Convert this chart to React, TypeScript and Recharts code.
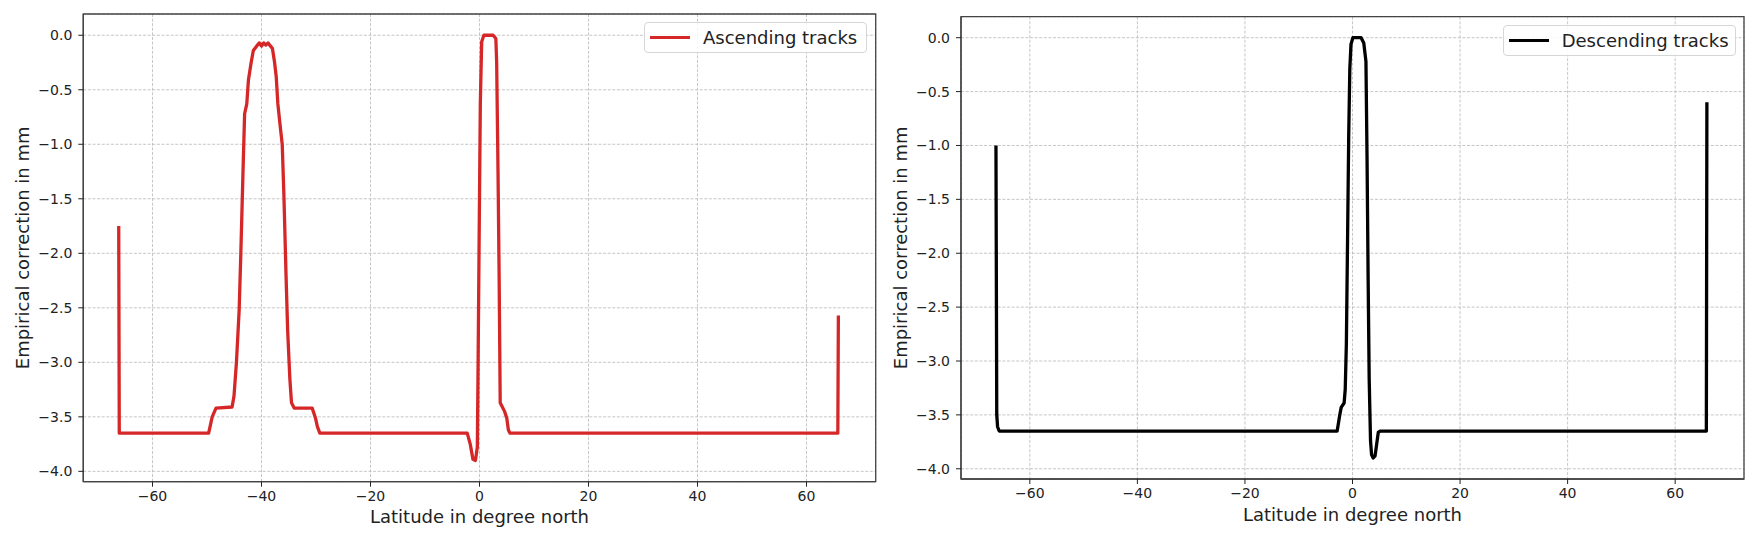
import React from 'react';
import { LineChart, Line, XAxis, YAxis, CartesianGrid, Legend, Label, ReferenceArea } from 'recharts';

const xTicks = [-60, -40, -20, 0, 20, 40, 60];
const yTicks = [0, -0.5, -1, -1.5, -2, -2.5, -3, -3.5, -4];

const ascendingLat = [-66.2, -66.1, -49.7, -49.05, -48.35, -45.4, -45.05, -44.6, -44.1, -43.8, -43.4, -43.1, -42.7, -42.4, -41.9, -41.5, -40.9, -40.4, -40.0, -39.6, -39.2, -38.8, -38.5, -38.0, -37.6, -37.3, -37.0, -36.6, -36.2, -35.9, -35.5, -35.2, -34.8, -34.5, -34.0, -30.7, -30.1, -29.75, -29.3, -2.25, -1.7, -1.2, -0.75, -0.4, -0.28, -0.07, 0.15, 0.4, 0.8, 2.5, 3.0, 3.15, 3.4, 3.6, 3.8, 4.1, 4.6, 5.0, 5.3, 5.6, 65.75, 65.85];
const ascendingVal = [-1.75, -3.65, -3.65, -3.5, -3.42, -3.41, -3.31, -3.0, -2.52, -2.01, -1.26, -0.72, -0.63, -0.41, -0.25, -0.14, -0.1, -0.07, -0.1, -0.07, -0.09, -0.07, -0.09, -0.12, -0.25, -0.38, -0.63, -0.82, -1.0, -1.45, -2.2, -2.71, -3.15, -3.37, -3.42, -3.42, -3.51, -3.59, -3.65, -3.65, -3.75, -3.89, -3.9, -3.78, -3.15, -1.89, -0.63, -0.06, 0, 0, -0.03, -0.25, -1.26, -2.2, -3.37, -3.4, -3.45, -3.51, -3.62, -3.65, -3.65, -2.57];

const descendingLat = [-66.3, -66.15, -66.0, -65.7, -2.85, -2.4, -2.1, -1.56, -1.35, -1.14, -0.92, -0.71, -0.5, -0.28, 0.07, 1.6, 2.1, 2.5, 2.7, 2.9, 3.1, 3.35, 3.55, 3.85, 4.2, 4.5, 4.8, 5.2, 65.8, 65.9];
const descendingVal = [-1.0, -3.5, -3.61, -3.65, -3.65, -3.51, -3.43, -3.39, -3.26, -2.84, -1.88, -0.93, -0.29, -0.06, 0, 0, -0.05, -0.22, -1.09, -2.2, -3.16, -3.74, -3.87, -3.9, -3.88, -3.77, -3.66, -3.65, -3.65, -0.6];

const ascData = ascendingLat.map((lat, i) => ({ lat, val: ascendingVal[i] }));
const descData = descendingLat.map((lat, i) => ({ lat, val: descendingVal[i] }));

const Y_DOMAIN: [number, number] = [-4.095, 0.195];
const FONT = '"DejaVu Sans", sans-serif';
const fmtX = (v: number) => (v < 0 ? '\u2212' + Math.abs(v) : String(v));
const fmtY = (v: number) => (v < 0 ? '\u2212' + Math.abs(v).toFixed(1) : Math.abs(v).toFixed(1));

type PanelProps = {
  data: { lat: number; val: number }[];
  color: string;
  name: string;
  left: number;
  width: number;
  margin: { top: number; right: number; bottom: number; left: number };
  xDomain: [number, number];
  legend: { left: number; top: number; width: number; height: number };
  yLabelX: number;
};

function Panel(p: PanelProps) {
  const H = 539;
  const plotTop = p.margin.top;
  const plotBottom = H - p.margin.bottom - 30;
  const plotLeft = p.margin.left + 60;
  const plotRight = p.width - p.margin.right;
  const axisStroke = '#444';
  return (
    <div style={{ position: 'absolute', left: p.left, top: 0 }}>
      <LineChart width={p.width} height={H} data={p.data} margin={p.margin}>
        <CartesianGrid stroke="#b8b8b8" strokeDasharray="3 1.6" strokeWidth={0.8} />
        <XAxis
          dataKey="lat"
          type="number"
          domain={p.xDomain}
          ticks={xTicks}
          tickFormatter={fmtX}
          height={30}
          tickSize={5}
          tickMargin={4}
          allowDataOverflow
          axisLine={{ stroke: axisStroke, strokeWidth: 1.3 }}
          tickLine={{ stroke: '#222', strokeWidth: 1 }}
          tick={{ fill: '#222', fontSize: 14, fontFamily: FONT }}
        >
          <Label
            content={() => (
              <text
                x={(plotLeft + plotRight) / 2}
                y={plotBottom + 35}
                textAnchor="middle"
                dominantBaseline="central"
                fontSize={18}
                fontFamily={FONT}
                fill="#222"
              >
                Latitude in degree north
              </text>
            )}
          />
        </XAxis>
        <YAxis
          type="number"
          domain={Y_DOMAIN}
          ticks={yTicks}
          tickFormatter={fmtY}
          width={60}
          tickSize={5}
          tickMargin={6}
          allowDataOverflow
          axisLine={{ stroke: axisStroke, strokeWidth: 1.3 }}
          tickLine={{ stroke: '#222', strokeWidth: 1 }}
          tick={{ fill: '#222', fontSize: 14, fontFamily: FONT }}
        >
          <Label
            content={() => (
              <text
                x={p.yLabelX}
                y={(plotTop + plotBottom) / 2}
                textAnchor="middle"
                dominantBaseline="central"
                fontSize={18}
                fontFamily={FONT}
                fill="#222"
                transform={`rotate(-90 ${p.yLabelX} ${(plotTop + plotBottom) / 2})`}
              >
                Empirical correction in mm
              </text>
            )}
          />
        </YAxis>
        <ReferenceArea
          x1={p.xDomain[0]}
          x2={p.xDomain[1]}
          y1={Y_DOMAIN[0]}
          y2={Y_DOMAIN[1]}
          fill="none"
          fillOpacity={0}
          stroke={axisStroke}
          strokeWidth={1.3}
          ifOverflow="visible"
        />
        <Legend
          layout="horizontal"
          verticalAlign="middle"
          align="center"
          wrapperStyle={{ left: p.legend.left, top: p.legend.top, width: p.legend.width, height: p.legend.height }}
          content={() => (
            <div
              style={{
                boxSizing: 'border-box',
                width: p.legend.width,
                height: p.legend.height,
                border: '1px solid #d6d6d6',
                borderRadius: 4,
                background: 'rgba(255,255,255,0.85)',
                display: 'flex',
                alignItems: 'center',
                fontFamily: FONT,
                fontSize: 18,
                color: '#222',
              }}
            >
              <span style={{ display: 'inline-block', width: 40, height: 3, background: p.color, marginLeft: 5, marginRight: 13 }} />
              <span>{p.name}</span>
            </div>
          )}
        />
        <Line
          type="linear"
          dataKey="val"
          name={p.name}
          stroke={p.color}
          strokeWidth={3.3}
          dot={false}
          activeDot={false}
          strokeLinejoin="round"
          isAnimationActive={false}
        />
      </LineChart>
    </div>
  );
}

export default function App() {
  return (
    <div style={{ position: 'absolute', left: 0, top: 0, width: 1757, height: 539, background: '#fff', overflow: 'hidden' }}>
      <Panel
        data={ascData}
        color="#d62728"
        name="Ascending tracks"
        left={0}
        width={880}
        margin={{ top: 14, right: 4.3, bottom: 27.3, left: 23.3 }}
        xDomain={[-72.7, 72.7]}
        legend={{ left: 644, top: 22, width: 223, height: 31 }}
        yLabelX={22.4}
      />
      <Panel
        data={descData}
        color="#000000"
        name="Descending tracks"
        left={880}
        width={877}
        margin={{ top: 16.7, right: 13, bottom: 30, left: 21 }}
        xDomain={[-72.8, 72.8]}
        legend={{ left: 622.7, top: 25, width: 233, height: 31 }}
        yLabelX={20.6}
      />
    </div>
  );
}
